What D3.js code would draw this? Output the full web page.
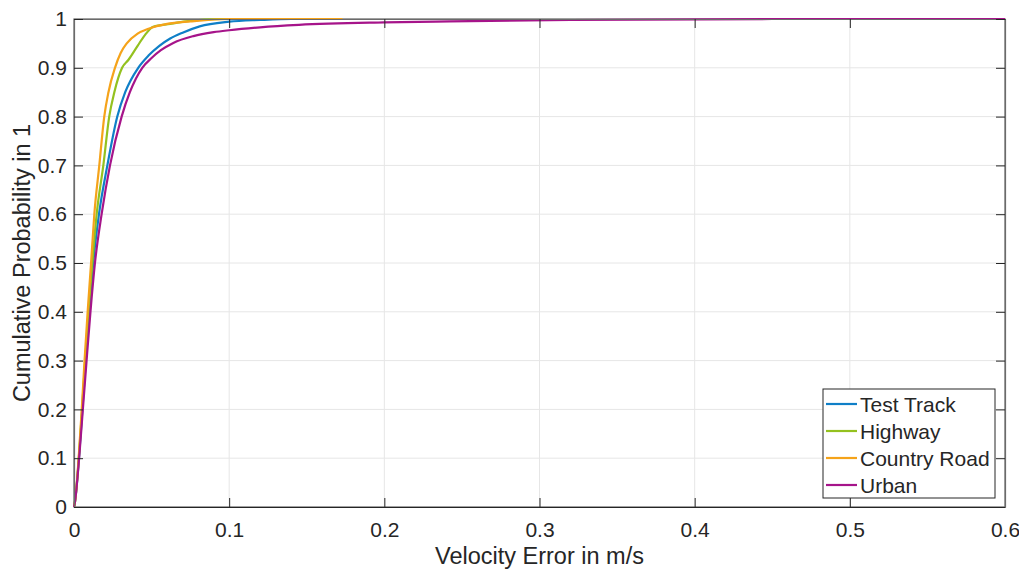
<!doctype html>
<html lang="en">
<head>
<meta charset="utf-8">
<style>
  body { margin: 0; background: #fff; }
  svg text { font-family: "Liberation Sans", Arial, sans-serif; fill: #262626; }
</style>
<script src="https://d3js.org/d3.v7.min.js"></script>
</head>
<body>
<svg width="1019" height="570"></svg>
<script>
// CDF points [velocity error in m/s, cumulative probability]
const testTrack = [[0,0],[0.0006,0.01],[0.0032,0.1],[0.0054,0.2],[0.0076,0.3],[0.0099,0.4],[0.0124,0.5],
  [0.0161,0.6],[0.0215,0.7],[0.0279,0.8],[0.033,0.85],[0.0414,0.9],[0.048,0.925],[0.055,0.945],[0.062,0.960],
  [0.070,0.972],[0.081,0.985],[0.100,0.9945],[0.12,0.998],[0.14,1],[0.16,1]];
const highway = [[0,0],[0.0006,0.01],[0.0031,0.1],[0.0052,0.2],[0.0072,0.3],[0.0094,0.4],[0.0118,0.5],
  [0.0146,0.6],[0.0189,0.7],[0.0227,0.8],[0.026,0.85],[0.031,0.9],[0.035,0.916],[0.041,0.945],[0.0457,0.967],
  [0.051,0.984],[0.062,0.99],[0.072,0.995],[0.095,1],[0.12,1]];
const countryRoad = [[0,0],[0.0006,0.01],[0.0030,0.1],[0.0050,0.2],[0.0068,0.3],[0.0088,0.4],[0.0110,0.5],
  [0.0131,0.6],[0.0163,0.7],[0.0195,0.8],[0.0222,0.85],[0.0264,0.9],[0.030,0.93],[0.034,0.95],[0.041,0.97],
  [0.048,0.98],[0.060,0.99],[0.075,0.995],[0.10,1],[0.173,1]];
const urban = [[0,0],[0.0006,0.01],[0.0033,0.1],[0.0057,0.2],[0.0081,0.3],[0.0106,0.4],[0.0135,0.5],
  [0.0178,0.6],[0.0232,0.7],[0.0307,0.8],[0.036,0.85],[0.0440,0.9],[0.050,0.920],[0.056,0.936],[0.064,0.951],
  [0.077,0.965],[0.090,0.973],[0.100,0.977],[0.120,0.983],[0.145,0.988],[0.20,0.993],[0.242,0.995],
  [0.32,0.998],[0.45,1],[0.6,1]];

const seriesNames = ["Test Track", "Highway", "Country Road", "Urban"];
const seriesColors = ["#0F7FC7", "#94C11F", "#F5A31A", "#A6148A"];
const seriesData = [testTrack, highway, countryRoad, urban];

const xTicks = [0, 0.1, 0.2, 0.3, 0.4, 0.5, 0.6];
const yTicks = [0, 0.1, 0.2, 0.3, 0.4, 0.5, 0.6, 0.7, 0.8, 0.9, 1];

const margin = { left: 74, right: 14, top: 19, bottom: 63 };
const W = 1019, H = 570;
const svg = d3.select("svg");

const x = d3.scaleLinear().domain([0, 0.6]).range([margin.left, W - margin.right]);
const y = d3.scaleLinear().domain([0, 1]).range([H - margin.bottom, margin.top]);

// grid
svg.append("g").selectAll("line").data(xTicks).enter().append("line")
  .attr("x1", d => x(d)).attr("x2", d => x(d))
  .attr("y1", y(0)).attr("y2", y(1))
  .attr("stroke", "#e6e6e6").attr("stroke-width", 1);
svg.append("g").selectAll("line").data(yTicks).enter().append("line")
  .attr("x1", x(0)).attr("x2", x(0.6))
  .attr("y1", d => y(d)).attr("y2", d => y(d))
  .attr("stroke", "#e6e6e6").attr("stroke-width", 1);

// box
svg.append("rect")
  .attr("x", x(0)).attr("y", y(1))
  .attr("width", x(0.6) - x(0)).attr("height", y(0) - y(1))
  .attr("fill", "none").attr("stroke", "#6b6b6b").attr("stroke-width", 1.2);

// lines
const line = d3.line().x(d => x(d[0])).y(d => y(d[1])).curve(d3.curveMonotoneX);
seriesData.forEach((s, i) => {
  svg.append("path").datum(s)
    .attr("d", line)
    .attr("fill", "none")
    .attr("stroke", seriesColors[i])
    .attr("stroke-width", 2.2);
});

// axes with inward ticks
const tickLen = 9;
const axBottom = svg.append("g").attr("transform", `translate(0,${y(0)})`)
  .call(d3.axisBottom(x).tickValues(xTicks).tickSizeInner(-tickLen).tickSizeOuter(0)
    .tickPadding(15).tickFormat(d3.format("~g")));
const axTop = svg.append("g").attr("transform", `translate(0,${y(1)})`)
  .call(d3.axisTop(x).tickValues(xTicks).tickSizeInner(-tickLen).tickSizeOuter(0).tickFormat(""));
const axLeft = svg.append("g").attr("transform", `translate(${x(0)},0)`)
  .call(d3.axisLeft(y).tickValues(yTicks).tickSizeInner(-tickLen).tickSizeOuter(0)
    .tickPadding(7).tickFormat(d3.format("~g")));
const axRight = svg.append("g").attr("transform", `translate(${x(0.6)},0)`)
  .call(d3.axisRight(y).tickValues(yTicks).tickSizeInner(-tickLen).tickSizeOuter(0).tickFormat(""));

[axBottom, axTop, axLeft, axRight].forEach(g => {
  g.select(".domain").attr("stroke", "#6b6b6b").attr("stroke-width", 1.2);
  g.selectAll(".tick line").attr("stroke", "#262626");
  g.selectAll("text").style("font-size", "21px").attr("fill", "#262626");
});
axBottom.select(".domain").attr("stroke", "#262626");

// axis labels
svg.append("text")
  .attr("x", (x(0) + x(0.6)) / 2).attr("y", 564)
  .attr("text-anchor", "middle")
  .style("font-size", "23.5px")
  .text("Velocity Error in m/s");
svg.append("text")
  .attr("transform", `translate(30,${(y(0) + y(1)) / 2}) rotate(-90)`)
  .attr("text-anchor", "middle")
  .style("font-size", "23.5px")
  .text("Cumulative Probability in 1");

// legend
const lg = svg.append("g");
lg.append("rect")
  .attr("x", 823).attr("y", 389).attr("width", 172).attr("height", 109)
  .attr("fill", "#fff").attr("stroke", "#262626").attr("stroke-width", 1);
seriesNames.forEach((n, i) => {
  const cy = 404 + i * 27;
  lg.append("line")
    .attr("x1", 826).attr("x2", 857).attr("y1", cy).attr("y2", cy)
    .attr("stroke", seriesColors[i]).attr("stroke-width", 2.2);
  lg.append("text")
    .attr("x", 860).attr("y", cy).attr("dy", "0.36em")
    .style("font-size", "21px")
    .text(n);
});
</script>
</body>
</html>
